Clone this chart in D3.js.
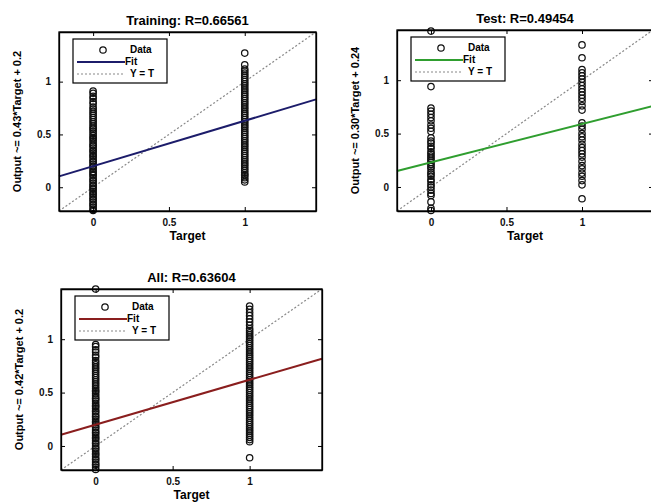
<!DOCTYPE html>
<html>
<head>
<meta charset="utf-8">
<script src="https://cdn.jsdelivr.net/npm/d3@7"></script>
<style>
body{margin:0;background:#fff;}
text{font-family:"Liberation Sans",Arial,sans-serif;}
</style>
</head>
<body>
<svg class="chart" width="651" height="502"></svg>
<script>
// outputs, one list per target value (0 or 1)
var trainT0 = [-0.22,-0.21,-0.19,-0.17,-0.16,-0.14,-0.12,-0.11,-0.09,-0.07,-0.06,-0.04,-0.02,-0.01,0.01,0.02,0.04,0.06,0.07,0.09,0.11,0.12,0.14,0.15,0.17,0.19,0.2,0.22,0.24,0.25,0.27,0.29,0.3,0.32,0.34,0.35,0.37,0.39,0.4,0.42,0.44,0.46,0.47,0.49,0.51,0.53,0.55,0.56,0.58,0.6,0.62,0.64,0.66,0.68,0.7,0.72,0.74,0.76,0.79,0.81,0.84,0.86,0.89,0.91];
var trainT1 = [0.05,0.07,0.09,0.11,0.12,0.14,0.16,0.18,0.2,0.22,0.24,0.26,0.28,0.3,0.32,0.34,0.36,0.38,0.4,0.42,0.44,0.46,0.48,0.5,0.52,0.54,0.56,0.58,0.6,0.62,0.64,0.66,0.68,0.7,0.72,0.74,0.76,0.78,0.8,0.82,0.84,0.86,0.88,0.9,0.92,0.94,0.96,0.98,1.0,1.02,1.04,1.06,1.08,1.1,1.12,1.16,1.27];
var testT0 = [1.46,0.94,0.74,0.71,0.68,0.65,0.62,0.58,0.55,0.52,0.46,0.43,0.41,0.38,0.36,0.33,0.31,0.29,0.27,0.25,0.23,0.21,0.19,0.17,0.14,0.12,0.1,0.07,0.05,0.02,0.0,-0.03,-0.06,-0.08,-0.14,-0.2,-0.22];
var testT1 = [1.33,1.21,1.1,1.07,1.04,1.01,0.98,0.95,0.92,0.89,0.86,0.83,0.8,0.76,0.72,0.6,0.57,0.54,0.5,0.47,0.44,0.4,0.37,0.34,0.31,0.28,0.24,0.2,0.17,0.13,0.1,0.06,0.02,-0.11];
var allT0 = [1.47,-0.22,-0.2,-0.18,-0.17,-0.15,-0.13,-0.12,-0.1,-0.08,-0.07,-0.05,-0.03,-0.02,0.0,0.02,0.03,0.05,0.07,0.08,0.1,0.12,0.13,0.15,0.17,0.18,0.2,0.22,0.23,0.25,0.27,0.28,0.3,0.32,0.33,0.35,0.37,0.38,0.4,0.42,0.44,0.45,0.47,0.49,0.51,0.52,0.54,0.56,0.58,0.6,0.62,0.64,0.66,0.68,0.7,0.72,0.74,0.76,0.78,0.8,0.83,0.85,0.88,0.9,0.93,0.95];
var allT1 = [-0.11,0.04,0.06,0.08,0.1,0.12,0.14,0.16,0.18,0.2,0.22,0.24,0.26,0.28,0.3,0.32,0.34,0.36,0.38,0.4,0.42,0.44,0.46,0.48,0.5,0.52,0.54,0.56,0.58,0.6,0.62,0.64,0.66,0.68,0.7,0.72,0.74,0.76,0.78,0.8,0.82,0.84,0.86,0.88,0.9,0.92,0.94,0.96,0.98,1.0,1.02,1.04,1.06,1.08,1.1,1.13,1.16,1.19,1.22,1.25,1.28,1.31];

var titles = ["Training: R=0.66561","Test: R=0.49454","All: R=0.63604"];
var yLabels = ["Output ~= 0.43*Target + 0.2","Output ~= 0.30*Target + 0.24","Output ~= 0.42*Target + 0.2"];
var fitSlope = [0.43,0.36,0.42];
var fitIntercept = [0.2,0.23,0.2];
var fitColors = ["#1c1c6a","#2f9e2f","#8a1e1e"];
var tickVals = [0,0.5,1];
var axLim = [-0.225,1.47];

// panel boxes: left, top, width, height
var boxes = [[59,32,257,179],[397,30,256,181],[61,289,261,181]];
var dataSets = [[trainT0,trainT1],[testT0,testT1],[allT0,allT1]];

var svg = d3.select(".chart");

boxes.forEach(function(b,i){
	var w=b[2], h=b[3];
	var g = svg.append("g").attr("transform","translate("+b[0]+","+b[1]+")");
	var x = d3.scaleLinear().domain(axLim).range([0,w]);
	var y = d3.scaleLinear().domain(axLim).range([h,0]);

	g.append("rect").attr("width",w).attr("height",h).style("fill","#fff");

	// Y = T
	g.append("line")
		.attr("x1",x(axLim[0])).attr("y1",y(axLim[0]))
		.attr("x2",x(axLim[1])).attr("y2",y(axLim[1]))
		.style("stroke","#888").style("stroke-width",1.2).style("stroke-dasharray","2,2");

	// data
	var pts=[];
	dataSets[i].forEach(function(col,t){ col.forEach(function(v){pts.push({t:t,o:v});}); });
	g.selectAll(".dot").data(pts).enter().append("circle")
		.attr("cx",function(d){return x(d.t);})
		.attr("cy",function(d){return y(d.o);})
		.attr("r",3.2)
		.style("fill","none").style("stroke","#111").style("stroke-width",1.25);

	// fit
	g.append("line")
		.attr("x1",x(axLim[0])).attr("y1",y(fitSlope[i]*axLim[0]+fitIntercept[i]))
		.attr("x2",x(axLim[1])).attr("y2",y(fitSlope[i]*axLim[1]+fitIntercept[i]))
		.style("stroke",fitColors[i]).style("stroke-width",2);

	// axes (ticks inside, box on)
	var xa = d3.axisBottom(x).tickValues(tickVals).tickSizeInner(-4).tickSizeOuter(0).tickPadding(8).tickFormat(d3.format("~g"));
	var ya = d3.axisLeft(y).tickValues(tickVals).tickSizeInner(-4).tickSizeOuter(0).tickPadding(8).tickFormat(d3.format("~g"));
	g.append("g").attr("class","axis").attr("transform","translate(0,"+h+")").call(xa);
	g.append("g").attr("class","axis").call(ya);
	g.append("g").attr("class","axis").call(d3.axisTop(x).tickValues(tickVals).tickSizeInner(-4).tickSizeOuter(0).tickFormat(""));
	g.append("g").attr("class","axis").attr("transform","translate("+w+",0)").call(d3.axisRight(y).tickValues(tickVals).tickSizeInner(-4).tickSizeOuter(0).tickFormat(""));
	g.selectAll(".axis path").style("stroke","#000").style("stroke-width",1.3);
	g.selectAll(".axis line").style("stroke","#000");
	g.selectAll(".axis text").style("font-size","10px").style("font-weight","bold").style("fill","#111");
	g.append("rect").attr("width",w).attr("height",h).style("fill","none").style("stroke","#000").style("stroke-width",1.3);

	// titles and labels
	g.append("text").attr("x",w/2).attr("y",-7).attr("text-anchor","middle")
		.style("font-size","13px").style("font-weight","bold").text(titles[i]);
	g.append("text").attr("x",w/2).attr("y",h+29).attr("text-anchor","middle")
		.style("font-size","12px").style("font-weight","bold").text("Target");
	g.append("text").attr("transform","translate(-38,"+(h/2)+") rotate(-90)").attr("text-anchor","middle")
		.style("font-size","11px").style("font-weight","bold").text(yLabels[i]);

	// legend
	var lg = g.append("g").attr("transform","translate(14,7)");
	lg.append("rect").attr("width",94).attr("height",44).style("fill","#fff").style("stroke","#000").style("stroke-width",1.2);
	lg.append("circle").attr("cx",30).attr("cy",11).attr("r",3.2).style("fill","none").style("stroke","#111").style("stroke-width",1.25);
	lg.append("line").attr("x1",4).attr("x2",52).attr("y1",23).attr("y2",23).style("stroke",fitColors[i]).style("stroke-width",2);
	lg.append("line").attr("x1",4).attr("x2",52).attr("y1",35).attr("y2",35).style("stroke","#888").style("stroke-width",1.2).style("stroke-dasharray","2,2");
	var labs=["Data","Fit","Y = T"], lx=[57,52,57];
	labs.forEach(function(s,k){
		lg.append("text").attr("x",lx[k]).attr("y",14+k*12).style("font-size","10px").style("font-weight","bold").text(s);
	});
});
</script>
</body>
</html>
